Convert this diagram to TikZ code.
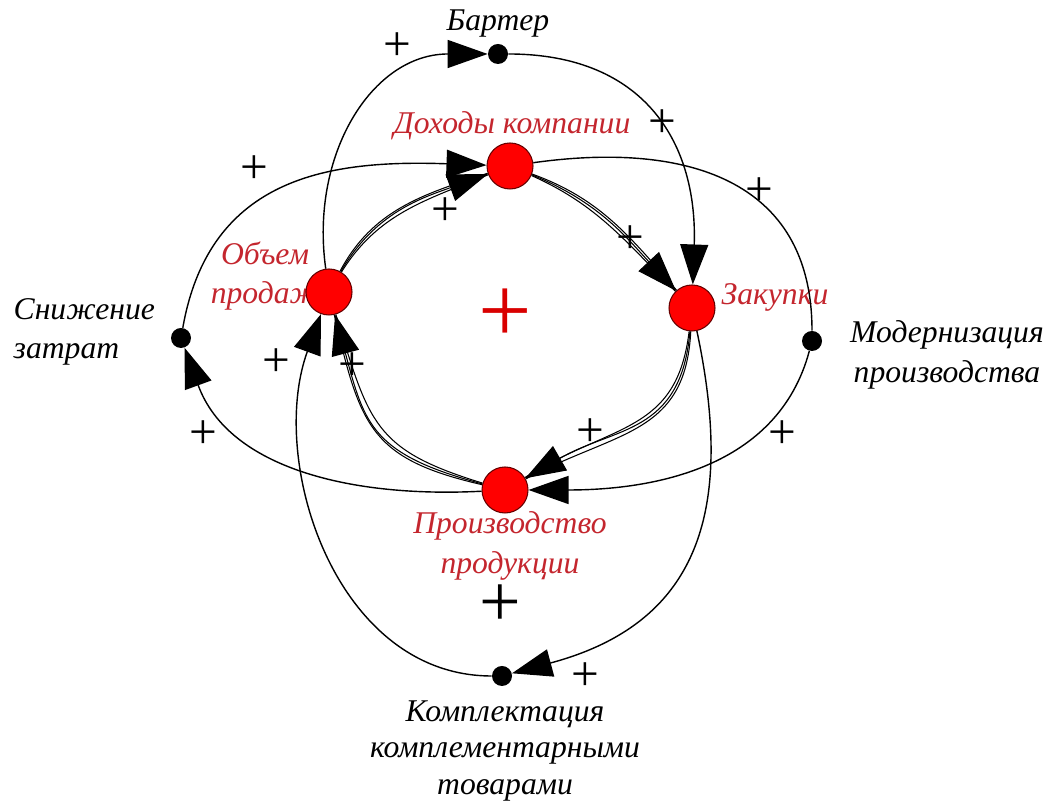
\documentclass[tikz,border=0pt]{standalone}
\usepackage{fontspec}
\setmainfont{Liberation Serif}
\usetikzlibrary{arrows.meta,positioning}
\definecolor{nodered}{HTML}{FF0000}
\definecolor{labelred}{HTML}{C4262E}

\begin{document}
\begin{tikzpicture}[
  x=1cm,
  y=1cm,
  every node/.style={font=\fontsize{18}{22.5}\selectfont\itshape},
  factor/.style={circle, draw=black!60!red, fill=nodered, line width=0.6pt, minimum size=0.92cm, inner sep=0pt},
  ext/.style={circle, fill=black, minimum size=0.4cm, inner sep=0pt},
  conn/.style={line width=0.8pt},
  innerl/.style={line width=0.6pt},
  flow/.style={-{Triangle[length=8mm,width=5.6mm]}},
  redlbl/.style={text=labelred, align=center},
  blklbl/.style={text=black, align=center},
  sgn/.style={font=\fontsize{28}{28}\selectfont\upshape, inner sep=0pt}
]
\useasboundingbox (0,0) rectangle (21.04,16.06);

% labels first, the nodes lie on top of them
\node[blklbl] (bl) at (9.96,15.58) {Бартер};
\node[redlbl] (dl) at (10.24,13.54) {Доходы компании};
\node[redlbl] (ol) at (5.3,10.54) {Объем\\продаж};
\node[redlbl] (zl) at (15.5,10.12) {Закупки};
\node[blklbl, align=left, anchor=west] (sl) at (0.15,9.42) {Снижение\\затрат};
\node[blklbl] (ml) at (18.94,8.96) {Модернизация\\производства};
\node[redlbl] (pl) at (10.2,5.14) {Производство\\продукции};
\node[blklbl, font=\fontsize{18}{20.5}\selectfont\itshape] (kl) at (10.1,1.04) {Комплектация\\комплементарными\\товарами};

% factors
\node[factor] (D) at (10.2,12.74) {};
\node[factor] (Z) at (13.84,9.9) {};
\node[factor] (P) at (10.1,6.26) {};
\node[factor] (O) at (6.58,10.22) {};
\node[ext] (B) at (9.96,14.98) {};
\node[ext] (M) at (16.24,9.24) {};
\node[ext] (K) at (10.04,2.54) {};
\node[ext] (S) at (3.62,9.3) {};

% inner loop
\foreach \d in {-2,2} {
  \draw[innerl] (O) to[out=60+\d,in=200-\d] (D);
  \draw[innerl] (D) to[out=-22+\d,in=133-\d] (Z);
  \draw[innerl] (Z) to[out=-95+\d,in=30-\d,looseness=1.2] (P);
  \draw[innerl] (P) to[out=165+\d,in=-75-\d,looseness=1.3] (O);
}
\draw[innerl,flow] (O) to[out=60,in=200] (D);
\draw[innerl,flow] (D) to[out=-22,in=133] (Z);
\draw[innerl,flow] (Z) to[out=-95,in=30,looseness=1.2] (P);
\draw[innerl,flow] (P) to[out=165,in=-75,looseness=1.3] (O);

% outer loops
\draw[conn,flow] (O) to[out=98,in=180,looseness=1.1] (B);
\draw[conn,flow] (B) to[out=0,in=88,looseness=1.2] (Z);
\draw[conn,flow] (P) to[out=183,in=-70] (S);
\draw[conn,flow] (S) to[out=80,in=178,looseness=1.15] (D);
\draw[conn] (D) to[out=8,in=90,looseness=1.2] (M);
\draw[conn,flow] (M) to[out=-105,in=0] (P);
\draw[conn,flow] (Z) to[out=-78,in=15,looseness=1.25] (K);
\draw[conn,flow] (K) to[out=180,in=250] (O);

% signs
\node[sgn] (s1) at (7.94,15.12) {+};
\node[sgn] (s2) at (13.24,13.58) {+};
\node[sgn] (s3) at (5.08,12.66) {+};
\node[sgn] (s4) at (15.18,12.22) {+};
\node[sgn] (s5) at (8.9,11.82) {+};
\node[sgn] (s6) at (12.6,11.26) {+};
\node[sgn] (s7) at (5.52,8.8) {+};
\node[sgn] (s8) at (7.04,8.72) {+};
\node[sgn] (s9) at (4.06,7.36) {+};
\node[sgn] (s10) at (11.8,7.4) {+};
\node[sgn] (s11) at (15.64,7.36) {+};
\node[sgn] (s12) at (11.7,2.52) {+};
\node[sgn, font=\fontsize{42}{42}\selectfont] (pbig) at (10.0,3.94) {+};
\node[sgn, text=red!85!black, font=\fontsize{54}{54}\selectfont] (pmid) at (10.1,9.74) {+};
\end{tikzpicture}
\end{document}
